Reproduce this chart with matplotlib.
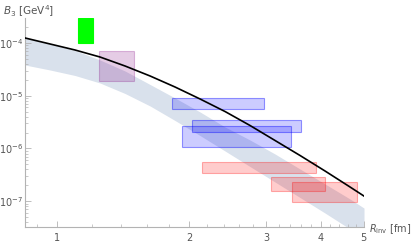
import matplotlib
matplotlib.use("Agg")
import matplotlib.pyplot as plt
from matplotlib.patches import Rectangle
import numpy as np

# R grid shared by the curve and the band
r_grid = [0.845, 0.964, 1.099, 1.253, 1.429, 1.630, 1.858, 2.119,
          2.416, 2.755, 3.142, 3.583, 4.085, 4.658, 5.01]

# black curve
curve_b = [1.245e-4, 9.57e-5, 7.36e-5, 5.42e-5, 3.66e-5, 2.365e-5, 1.462e-5, 8.66e-6,
           5.01e-6, 2.72e-6, 1.412e-6, 7.33e-7, 3.725e-7, 1.852e-7, 1.249e-7]

# light band, upper and lower edges
band_up = [1.245e-4, 9.57e-5, 7.21e-5, 4.76e-5, 2.94e-5, 1.631e-5, 9.04e-6, 4.91e-6,
           2.547e-6, 1.443e-6, 7.83e-7, 4.06e-7, 2.111e-7, 1.096e-7, 7.40e-8]
band_lo = [3.824e-5, 3.075e-5, 2.417e-5, 1.742e-5, 1.101e-5, 6.38e-6, 3.383e-6, 1.757e-6,
           8.93e-7, 4.53e-7, 2.304e-7, 1.170e-7, 5.94e-8, 2.955e-8, 1.995e-8]

# boxes: (r_min, r_max, b_min, b_max)
green_boxes = [(1.117, 1.208, 1.0e-4, 3.0e-4)]
purple_boxes = [(1.247, 1.498, 1.90e-5, 7.05e-5)]
blue_boxes = [(1.829, 2.966, 5.60e-6, 9.04e-6),
              (2.032, 3.602, 2.05e-6, 3.46e-6),
              (1.928, 3.418, 1.06e-6, 2.66e-6)]
red_boxes = [(2.141, 3.896, 3.41e-7, 5.52e-7),
             (3.076, 4.086, 1.56e-7, 2.86e-7),
             (3.436, 4.832, 9.61e-8, 2.30e-7)]

x_ticks = [1, 2, 3, 4, 5]
x_minor = [0.9, 1.2, 1.4, 1.6, 1.8, 2.2, 2.4, 2.6, 2.8, 3.2, 3.4, 3.6, 3.8, 4.2, 4.4, 4.6, 4.8]
y_ticks = [1e-7, 1e-6, 1e-5, 1e-4]

fig = plt.figure(figsize=(4.11, 2.44), dpi=100)
ax = fig.add_axes([25 / 411, 1 - 227 / 244, 339 / 411, 209 / 244])
ax.set_xscale("log")
ax.set_yscale("log")
ax.set_xlim(0.845, 5.01)
ax.set_ylim(10 ** -7.49, 10 ** -3.526)

ax.fill_between(r_grid, band_lo, band_up, color="#d9e1ec", lw=0, zorder=1)


def add_boxes(boxes, face, edge):
    for r0, r1, b0, b1 in boxes:
        ax.add_patch(Rectangle((r0, b0), r1 - r0, b1 - b0, facecolor=face,
                               edgecolor=edge, lw=0.8, zorder=2))


add_boxes(green_boxes, (0, 1, 0, 1.0), (0, 1, 0, 1.0))
add_boxes(purple_boxes, (0.5, 0, 0.5, 0.2), (0.5, 0, 0.5, 0.25))
add_boxes(blue_boxes, (0, 0, 1, 0.2), (0, 0, 1, 0.4))
add_boxes(red_boxes, (1, 0, 0, 0.2), (1, 0, 0, 0.3))

ax.plot(r_grid, curve_b, color="black", lw=1.2, zorder=3)

for s in ["top", "right"]:
    ax.spines[s].set_visible(False)
for s in ["left", "bottom"]:
    ax.spines[s].set_color("#b3b3b3")
    ax.spines[s].set_linewidth(0.8)

ax.set_xticks(x_ticks)
ax.set_xticklabels([str(t) for t in x_ticks])
ax.set_xticks(x_minor, minor=True)
ax.xaxis.set_minor_formatter(plt.NullFormatter())
ax.set_yticks(y_ticks)
ax.set_yticklabels([r"$10^{%d}$" % int(np.log10(t)) for t in y_ticks])
ax.tick_params(which="both", direction="in", color="#b3b3b3",
               labelcolor="#555555", labelsize=7)
ax.tick_params(which="major", length=4, width=0.6)
ax.tick_params(which="minor", length=2, width=0.5)
ax.tick_params(axis="y", pad=1.5)
ax.tick_params(axis="x", pad=4)

fig.text(3 / 411, 1 - 3 / 244, r"$B_3$ [GeV$^4$]", ha="left", va="top",
         fontsize=7.5, color="#555555")
fig.text(369 / 411, 1 - 229 / 244, r"$R_{\rm inv}$ [fm]", ha="left", va="center",
         fontsize=7, color="#555555")

fig.savefig("out.png", dpi=100)
